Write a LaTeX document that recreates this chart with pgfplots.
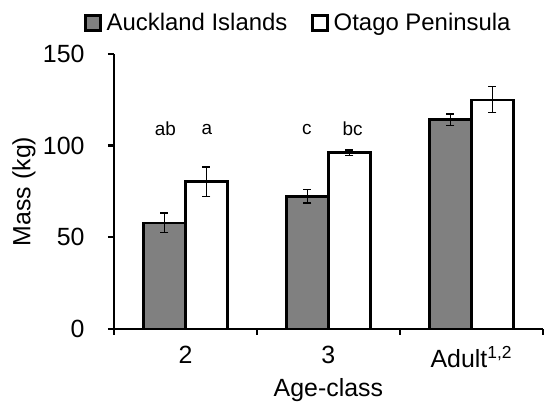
\documentclass[border=0pt]{standalone}
\usepackage{fontspec}
\setmainfont{Liberation Sans}
\usepackage{pgfplots}
\pgfplotsset{compat=1.18}
\definecolor{barg}{RGB}{128,128,128}
\begin{document}
\begin{tikzpicture}
\begin{axis}[
  scale only axis,
  width=429bp, height=275bp,
  xmin=-0.5, xmax=2.5,
  ymin=0, ymax=150,
  axis x line=bottom, axis y line=left,
  axis line style={line width=2.3bp, -},
  tick style={line width=2.3bp, black},
  tick align=outside,
  major tick length=6bp,
  xtick={-0.5,0.5,1.5,2.5},
  xticklabels={2,3,{Adult\textsuperscript{1,2}}},
  x tick label as interval,
  ytick={0,50,100,150},
  /pgf/number format/assume math mode=true,
  tick label style={font=\fontsize{25}{28}\selectfont},
  xticklabel style={yshift=-8bp},
  yticklabel style={xshift=-20bp},
  xlabel={Age-class},
  ylabel={Mass (kg)},
  every axis x label/.style={at={(rel axis cs:0.5,0)}, anchor=center, yshift=-61bp,
     font=\fontsize{25}{28}\selectfont},
  every axis y label/.style={at={(rel axis cs:0,0.5)}, xshift=-90bp, rotate=90, anchor=center,
     font=\fontsize{25}{28}\selectfont},
  ybar=0pt, bar width=42bp,
  clip=false,
  legend columns=2,
  legend style={draw=none, fill=none, at={(0.43,1.113)}, anchor=center,
    font=\fontsize{24}{27}\selectfont,
    /tikz/every odd column/.append style={column sep=3bp},
    /tikz/every even column/.append style={column sep=22bp}},
  legend image code/.code={\draw[#1, line width=2.4bp] (0bp,-7.5bp) rectangle (15bp,7.5bp);},
]
\path (rel axis cs:0,0) ++(-114bp,-81bp) rectangle ++(544bp,410bp);
\addplot[fill=barg, draw=black, line width=2.6bp,
  error bars/.cd, y dir=both, y explicit,
  error bar style={line width=1.2bp, black},
  error mark options={rotate=90, mark size=4bp, line width=1.2bp, black}]
  coordinates {(0,57.8) +- (0,5.4) (1,72.3) +- (0,3.6) (2,114.1) +- (0,3.2)};
\addplot[fill=white, draw=black, line width=2.6bp,
  error bars/.cd, y dir=both, y explicit,
  error bar style={line width=1.2bp, black},
  error mark options={rotate=90, mark size=4bp, line width=1.2bp, black}]
  coordinates {(0,80.3) +- (0,8.0) (1,96.2) +- (0,1.4) (2,125.0) +- (0,7.1)};
\legend{Auckland Islands, Otago Peninsula}
\node[font=\fontsize{19}{21}\selectfont] at (axis cs:-0.14,109) {ab};
\node[font=\fontsize{19}{21}\selectfont] at (axis cs:0.15,109) {a};
\node[font=\fontsize{19}{21}\selectfont] at (axis cs:0.85,109) {c};
\node[font=\fontsize{19}{21}\selectfont] at (axis cs:1.17,109) {bc};
\end{axis}
\end{tikzpicture}
\end{document}
